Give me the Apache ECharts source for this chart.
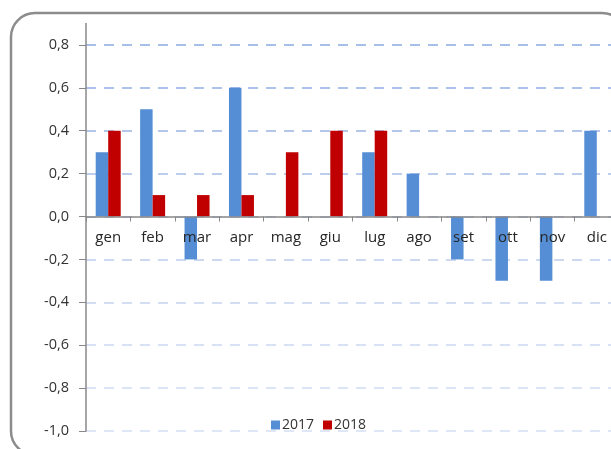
<!DOCTYPE html>
<html>
<head>
<meta charset="utf-8">
<script src="https://cdn.jsdelivr.net/npm/echarts@6/dist/echarts.min.js"></script>
<style>
html, body { margin: 0; padding: 0; background: #fff; }
#main { width: 611px; height: 449px; }
</style>
</head>
<body>
<div id="main"></div>
<script>
var months = ['gen', 'feb', 'mar', 'apr', 'mag', 'giu', 'lug', 'ago', 'set', 'ott', 'nov', 'dic'];
var values2017 = [0.3, 0.5, -0.2, 0.6, null, null, 0.3, 0.2, -0.2, -0.3, -0.3, 0.4];
var values2018 = [0.4, 0.1, 0.1, 0.1, 0.3, 0.4, 0.4, null, null, null, null, null];
var yTicks = [-1.0, -0.8, -0.6, -0.4, -0.2, 0.0, 0.2, 0.4, 0.6, 0.8];
var yMin = -1.0, yMax = 0.9;

var myChart = echarts.init(document.getElementById('main'));

// linee di griglia: più chiare in basso, più scure in alto
var gridColors = ['#dfe7f6', '#dce5f5', '#d8e2f4', '#d3def2', '#ccd9f0',
                  '#c6d4ef', '#bccded', '#b4c7eb', '#adc2ea', '#a8bfe9'];

var gridTop = 23.5, gridHeight = 407.5;
// l'asse delle categorie passa per lo zero
var zeroOffset = -gridHeight * (0 - yMin) / (yMax - yMin);

var option = {
    animation: false,
    textStyle: { fontFamily: 'Open Sans' },
    graphic: [{
        type: 'rect',
        shape: { x: 11, y: 13, width: 615, height: 442, r: 24 },
        style: { fill: 'none', stroke: '#8c8c8c', lineWidth: 2.5 },
        silent: true
    }],
    grid: {
        left: 86,
        width: 533,
        top: gridTop,
        height: gridHeight,
        containLabel: false,
        outerBoundsMode: 'none'
    },
    legend: {
        left: 266,
        top: 413,
        itemWidth: 9,
        itemHeight: 9,
        itemGap: 9,
        icon: 'rect',
        textStyle: { fontSize: 14, color: '#333', padding: [0, 0, 0, -3] },
        data: ['2017', '2018']
    },
    xAxis: {
        type: 'category',
        data: months,
        position: 'bottom',
        offset: zeroOffset,
        z: 10,
        axisLine: { onZero: false, lineStyle: { color: '#888', width: 1.5 } },
        axisTick: { show: true, length: 5, interval: 0, lineStyle: { color: '#888' } },
        axisLabel: { interval: 0, margin: 14, fontSize: 15, color: '#262626' },
        splitLine: { show: false }
    },
    yAxis: {
        type: 'value',
        min: yMin,
        max: yMax,
        interval: 0.2,
        axisLine: { show: true, lineStyle: { color: '#888', width: 1.5 } },
        axisTick: { show: true, length: 7, customValues: yTicks, lineStyle: { color: '#888' } },
        axisLabel: {
            customValues: yTicks,
            margin: 17,
            fontSize: 14.5,
            color: '#333',
            formatter: function (v) {
                return v.toFixed(1).replace('.', ',');
            }
        },
        splitLine: {
            show: true,
            lineStyle: { type: [10, 8], width: 2, color: gridColors }
        }
    },
    series: [
        {
            name: '2017',
            type: 'bar',
            data: values2017,
            barWidth: 12.5,
            barGap: '0%',
            itemStyle: { color: '#568ed5' }
        },
        {
            name: '2018',
            type: 'bar',
            data: values2018,
            barWidth: 12.5,
            barGap: '0%',
            itemStyle: { color: '#c00000' }
        }
    ]
};
myChart.setOption(option);
</script>
</body>
</html>
